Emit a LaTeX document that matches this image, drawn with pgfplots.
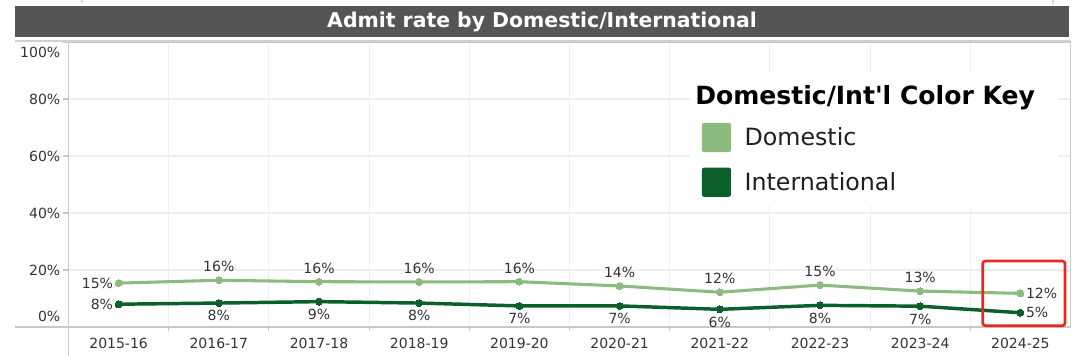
\documentclass[border=0pt]{standalone}
\usepackage{fontspec}
\setmainfont{DejaVu Sans}[Ligatures=TeXOff]
\usepackage{pgfplots}
\pgfplotsset{compat=1.18}
\usepackage{pgfplotstable}
\definecolor{dom}{RGB}{139,187,126}
\definecolor{intl}{RGB}{12,94,42}
\definecolor{titlebar}{RGB}{85,85,85}
\definecolor{axisgray}{RGB}{200,200,200}
\definecolor{gridgray}{RGB}{238,238,238}
\definecolor{txt}{RGB}{51,51,51}
\definecolor{boxred}{RGB}{232,40,30}
\newcommand\lab{\fontsize{10.5}{12}\selectfont}

\pgfplotstableread{
x y label
0 15.4 15
1 16.4 16
2 15.9 16
3 15.8 16
4 15.9 16
5 14.4 14
6 12.2 12
7 14.7 15
8 12.6 13
9 11.8 12
}\domtable

\pgfplotstableread{
x y label
0 8.0 8
1 8.4 8
2 8.9 9
3 8.4 8
4 7.4 7
5 7.4 7
6 6.2 6
7 7.6 8
8 7.3 7
9 5.0 5
}\intltable

\pgfplotsset{
  lbl/.style={forget plot, draw=none, mark=none, point meta=explicit symbolic,
    nodes near coords={\pgfplotspointmeta\%},
    nodes near coords style={inner xsep=4pt, font=\lab, text=txt}},
}

\begin{document}
\begin{tikzpicture}
\path[use as bounding box] (0pt,0pt) rectangle (810pt,267pt);
\begin{axis}[
  at={(51.375pt,21.75pt)}, anchor=south west,
  scale only axis, width=751.5pt, height=213.75pt,
  xmin=-0.5, xmax=9.5, ymin=0, ymax=100,
  clip=false,
  axis line style={draw=axisgray, line width=0.8pt},
  xtick={0,...,9},
  xticklabels={2015-16,2016-17,2017-18,2018-19,2019-20,2020-21,2021-22,2022-23,2023-24,2024-25},
  major x tick style={draw=none},
  minor xtick={0.5,1.5,...,8.5},
  xminorgrids=true,
  minor x tick style={draw=axisgray, line width=0.8pt},
  minor tick length=3pt,
  ytick={0,20,40,60,80,100},
  yticklabels={\smash{\raisebox{3.85pt}{0\%}},20\%,40\%,60\%,80\%,\smash{\raisebox{-11.9pt}{100\%}}},
  ymajorgrids=true,
  major y tick style={draw=axisgray, line width=0.8pt},
  major tick length=4.5pt,
  tick align=outside,
  xtick pos=bottom, ytick pos=left,
  grid style={draw=gridgray, line width=0.8pt},
  minor grid style={draw=gridgray, line width=0.8pt},
  ticklabel style={font=\lab, text=txt},
  xticklabel style={inner sep=0pt, yshift=-4pt},
  yticklabel style={inner sep=0pt, xshift=-1.5pt},
  legend image code/.code={\fill[#1, rounded corners=1.5pt] (0pt,-10.9pt) rectangle (21.75pt,10.9pt); \path (32pt,0pt);},
  legend cell align=left,
  legend style={at={(0.6319,0.7168)}, anchor=north west, draw=none, fill=none,
    inner sep=0pt, row sep=11.75pt, nodes={inner sep=0pt},
    font=\fontsize{17.8}{20}\selectfont, text=black!88},
]
% white legend panel and title
\fill[white] (axis cs:5.7026,89.12) rectangle (axis cs:9.3752,42.46);
\node[anchor=west, inner sep=0pt, font=\fontsize{18.8}{22}\selectfont\bfseries, text=black]
  at (axis cs:5.7525,80.35) {Domestic/Int'l Color Key};

% lines with markers
\addplot[forget plot, dom, line width=2.3pt, mark=*, mark size=2.6pt,
  mark options={solid, fill=dom, draw=dom, line width=0pt}]
  table[x=x, y=y] {\domtable};
\addplot[forget plot, intl, line width=2.6pt, mark=*, mark size=2.6pt,
  mark options={solid, fill=intl, draw=intl, line width=0pt}]
  table[x=x, y=y] {\intltable};

% value labels
\addplot[lbl, nodes near coords style={anchor=south, inner ysep=6pt}]
  table[x=x, y=y, meta=label, restrict x to domain=1:8] {\domtable};
\addplot[lbl, nodes near coords style={anchor=east}]
  table[x=x, y=y, meta=label, restrict x to domain=0:0] {\domtable};
\addplot[lbl, nodes near coords style={anchor=west}]
  table[x=x, y=y, meta=label, restrict x to domain=9:9] {\domtable};
\addplot[lbl, nodes near coords style={anchor=north, inner ysep=5.4pt}]
  table[x=x, y=y, meta=label, restrict x to domain=1:8] {\intltable};
\addplot[lbl, nodes near coords style={anchor=east}]
  table[x=x, y=y, meta=label, restrict x to domain=0:0] {\intltable};
\addplot[lbl, nodes near coords style={anchor=west}]
  table[x=x, y=y, meta=label, restrict x to domain=9:9] {\intltable};

\addlegendimage{fill=dom, draw=none}
\addlegendentry{Domestic}
\addlegendimage{fill=intl, draw=none}
\addlegendentry{International}

% highlight box
\draw[boxred, line width=2pt, rounded corners=2pt] (axis cs:8.6238,23.16) rectangle (axis cs:9.4451,0.456);
\end{axis}

\begin{scope}[x=0.75pt, y=-0.75pt, yshift=267pt]
  \fill[titlebar] (15,6) rectangle (1069,37);
  \node[text=white, font=\fontsize{15.3}{18}\selectfont\bfseries, inner sep=0pt] at (542,21.5) {Admit rate by Domestic/International};
  \draw[color=axisgray!85, line width=1.5pt] (15,41.5) -- (1070,41.5);
  \draw[color=axisgray, line width=0.8pt] (15,327) -- (68.5,327);
  \draw[color=axisgray, line width=0.8pt] (68.5,327) -- (68.5,356);
  \draw[color=axisgray!70, line width=0.8pt] (82,0) -- (82,3);
  \draw[color=axisgray!70, line width=0.8pt] (1053,0) -- (1053,4);
\end{scope}
\end{tikzpicture}
\end{document}
